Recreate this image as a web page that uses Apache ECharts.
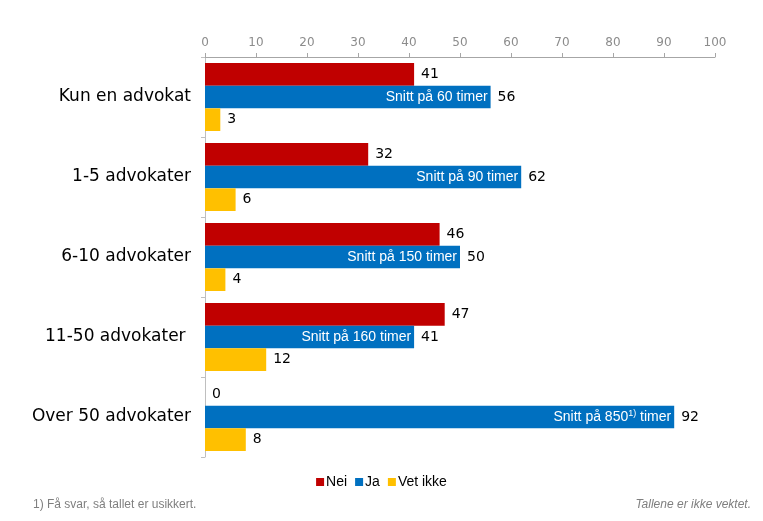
<!DOCTYPE html>
<html>
<head>
<meta charset="utf-8">
<script src="https://cdn.jsdelivr.net/npm/echarts@6/dist/echarts.min.js"></script>
<style>
  html, body { margin: 0; padding: 0; background: #fff; }
  #chart { width: 763px; height: 521px; }
</style>
</head>
<body>
<div id="chart"></div>
<script>
const categories = ['Kun en advokat', '1-5 advokater', '6-10 advokater', '11-50 advokater ', 'Over 50 advokater'];
const nei = [41, 32, 46, 47, 0];
const ja = [56, 62, 50, 41, 92];
const vetIkke = [3, 6, 4, 12, 8];
// tekst inne i de blå stolpene
const snitt = ['60', '90', '150', '160', '850'];
const snittNote = ['', '', '', '', '1)'];
const zero = [0, 0, 0, 0, 0];

const chart = echarts.init(document.getElementById('chart'));

const valueLabel = {
  show: true,
  position: 'right',
  distance: 7,
  color: '#000',
  fontFamily: 'DejaVu Sans',
  fontSize: 14
};

const option = {
  animation: false,
  grid: { left: 205, right: 48, top: 57, bottom: 64 },
  xAxis: {
    type: 'value',
    position: 'top',
    min: 0,
    max: 100,
    interval: 10,
    axisLine: { show: true, lineStyle: { color: '#a6a6a6' } },
    axisTick: { show: true, length: 4, lineStyle: { color: '#a6a6a6' } },
    axisLabel: { color: '#8c8c8c', fontFamily: 'DejaVu Sans', fontSize: 12, margin: 8 },
    splitLine: { show: false }
  },
  yAxis: {
    type: 'category',
    inverse: true,
    data: categories,
    axisLine: { show: true, lineStyle: { color: '#bfbfbf' } },
    axisTick: { show: true, length: 4, lineStyle: { color: '#bfbfbf' } },
    axisLabel: { color: '#000', fontFamily: 'DejaVu Sans', fontSize: 17, margin: 14 }
  },
  legend: {
    bottom: 27,
    left: 'center',
    itemWidth: 8,
    itemHeight: 8,
    itemGap: 8,
    icon: 'rect',
    textStyle: { color: '#000', fontFamily: 'Liberation Sans', fontSize: 14, padding: [0, 0, 0, -3] },
    data: ['Nei', 'Ja', 'Vet ikke']
  },
  graphic: [
    {
      type: 'text', left: 33, bottom: 10,
      style: { text: '1) Få svar, så tallet er usikkert.', fill: '#7f7f7f', font: '12px Liberation Sans' }
    },
    {
      type: 'text', right: 12, bottom: 10,
      style: { text: 'Tallene er ikke vektet.', fill: '#7f7f7f', font: 'italic 12px Liberation Sans' }
    }
  ],
  series: [
    {
      name: 'Nei', type: 'bar', data: nei,
      barGap: '0%', barCategoryGap: '15%',
      itemStyle: { color: '#C00000' },
      label: valueLabel
    },
    {
      name: 'Ja', type: 'bar', data: ja, stack: 'ja',
      barGap: '0%', barCategoryGap: '15%',
      itemStyle: { color: '#0070C0' },
      label: valueLabel
    },
    {
      // null-stolpe i enden av Ja for teksten inne i stolpen
      name: 'snitt', type: 'bar', data: zero, stack: 'ja',
      barGap: '0%', barCategoryGap: '15%',
      itemStyle: { color: 'transparent' },
      silent: true,
      label: {
        show: true,
        position: 'left',
        distance: 3,
        formatter: p => '{t|Snitt på ' + snitt[p.dataIndex] + '}' +
          (snittNote[p.dataIndex] ? '{s|' + snittNote[p.dataIndex] + '}' : '') + '{t| timer}',
        rich: {
          t: { color: '#fff', fontFamily: 'Liberation Sans', fontSize: 14 },
          s: { color: '#fff', fontFamily: 'Liberation Sans', fontSize: 9, verticalAlign: 'top', padding: [0, 0, 6, 0] }
        }
      }
    },
    {
      name: 'Vet ikke', type: 'bar', data: vetIkke,
      barGap: '0%', barCategoryGap: '15%',
      itemStyle: { color: '#FFC000' },
      label: valueLabel
    }
  ]
};

chart.setOption(option);
</script>
</body>
</html>
